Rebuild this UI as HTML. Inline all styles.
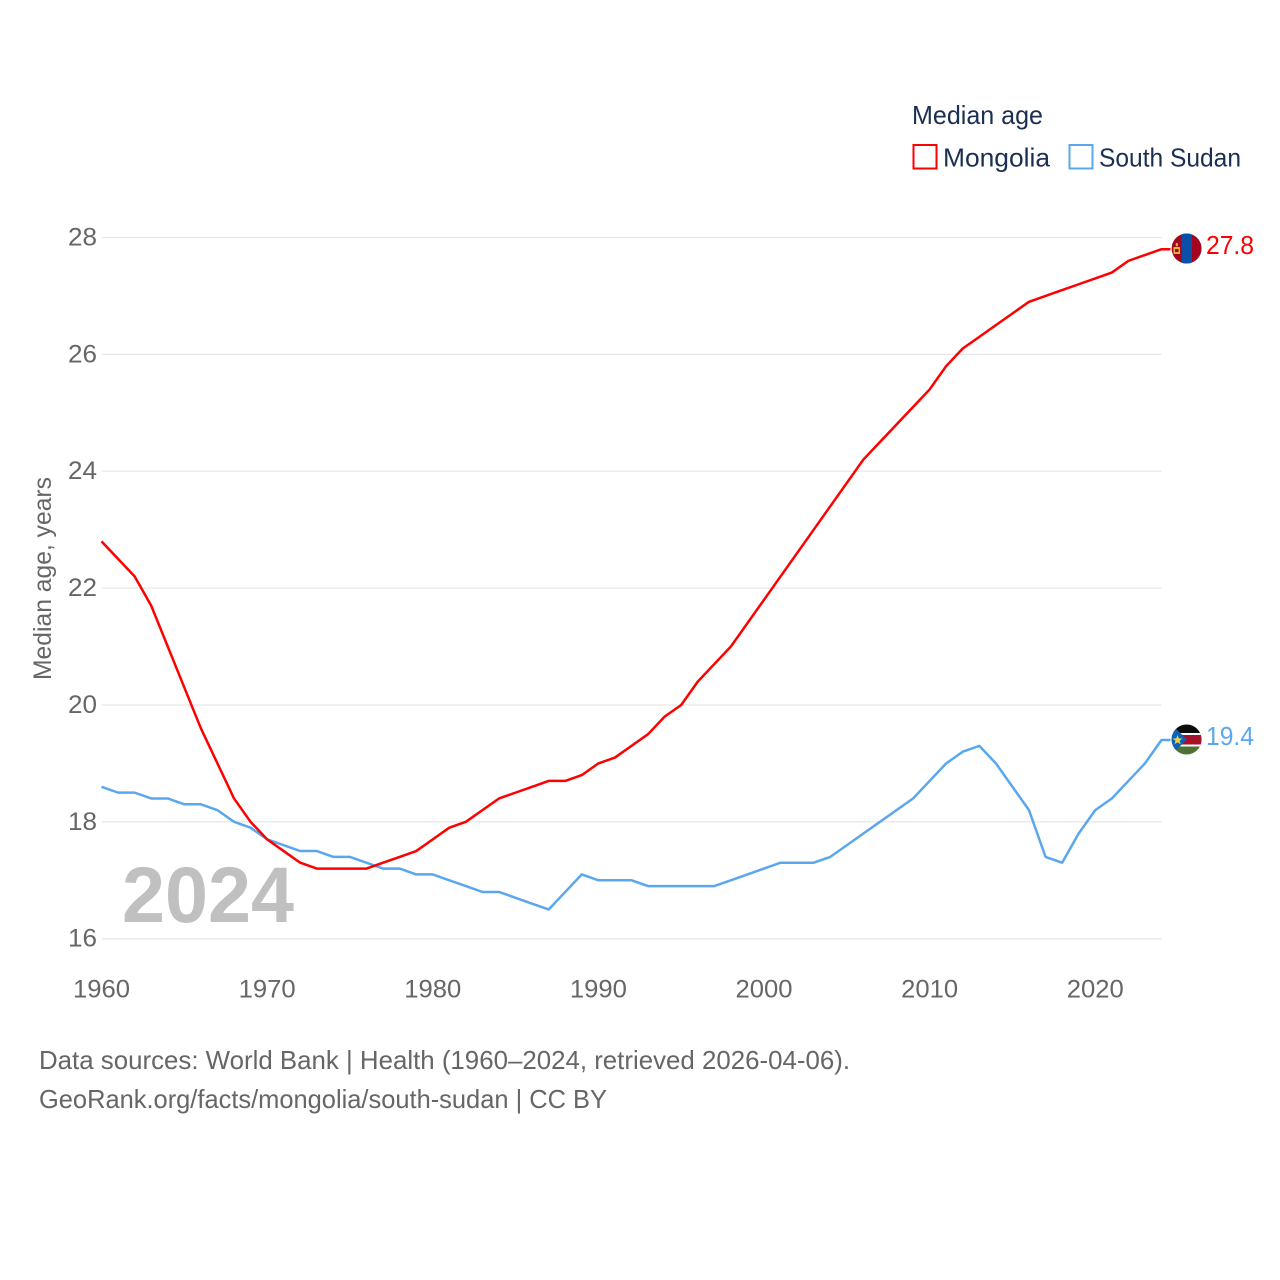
<!DOCTYPE html>
<html lang="en">
<head>
<meta charset="utf-8">
<title>Median age: Mongolia and South Sudan</title>
<style>
html,body{margin:0;padding:0;background:#fff;width:1280px;height:1280px;overflow:hidden}
svg{display:block}
text{font-family:"Liberation Sans",sans-serif}
</style>
</head>
<body>
<svg id="chart" width="1280" height="1280" viewBox="0 0 1280 1280" xmlns="http://www.w3.org/2000/svg">
  <defs>
    <clipPath id="flag-clip-mn"><circle cx="1186.6" cy="248.5" r="15"/></clipPath>
    <clipPath id="flag-clip-ss"><circle cx="1186.6" cy="739.5" r="15"/></clipPath>
  </defs>
  <g id="grid"></g>
  <g id="yticks"></g>
  <g id="xticks"></g>
  <text transform="translate(51,680) rotate(-90)" font-size="25" fill="#666" textLength="203" lengthAdjust="spacingAndGlyphs">Median age, years</text>
  <text x="122" y="922" font-size="79" font-weight="700" fill="#c0c0c0" textLength="172" lengthAdjust="spacingAndGlyphs">2024</text>
  <g id="series"></g>

  <g>
    <text x="912" y="124" font-size="26" fill="#1b2f52" textLength="131" lengthAdjust="spacingAndGlyphs">Median age</text>
    <rect x="913.5" y="145" width="23" height="23.5" fill="#fff" stroke="#ff0000" stroke-width="2"/>
    <text x="943" y="166.5" font-size="26" fill="#1b2f52" textLength="107" lengthAdjust="spacingAndGlyphs">Mongolia</text>
    <rect x="1069.5" y="145" width="23" height="23.5" fill="#fff" stroke="#5ba7ee" stroke-width="2"/>
    <text x="1099" y="166.5" font-size="26" fill="#1b2f52" textLength="142" lengthAdjust="spacingAndGlyphs">South Sudan</text>
  </g>

  <g clip-path="url(#flag-clip-mn)">
    <rect x="1171" y="233" width="31" height="31" fill="#a3071f"/>
    <rect x="1181.6" y="233" width="10.4" height="31" fill="#0b4fa8"/>
    <rect x="1173.5" y="247" width="6.5" height="7" fill="#e3b23c"/>
    <rect x="1175" y="249" width="3.5" height="3" fill="#a3071f"/>
    <rect x="1175.8" y="243" width="2" height="3.2" fill="#e3b23c"/>
  </g>
  <text x="1206" y="254" font-size="26" fill="#ff0000" textLength="48" lengthAdjust="spacingAndGlyphs">27.8</text>

  <g clip-path="url(#flag-clip-ss)">
    <rect x="1171" y="724" width="31" height="10.5" fill="#0c0c0c"/>
    <rect x="1171" y="734.5" width="31" height="10.5" fill="#a5122a"/>
    <rect x="1171" y="745" width="31" height="10" fill="#4d7232"/>
    <rect x="1171" y="733" width="31" height="2" fill="#fff"/>
    <rect x="1171" y="744.5" width="31" height="2" fill="#fff"/>
    <polygon points="1171,724 1187,739.5 1171,755" fill="#0b62b8"/>
    <polygon points="1177.5,735 1178.8,738.4 1182.4,738.5 1179.6,740.7 1180.6,744.2 1177.5,742.2 1174.5,744.2 1175.5,740.7 1172.7,738.5 1176.3,738.4" fill="#f6d23e"/>
  </g>
  <text x="1206" y="745" font-size="26" fill="#5ba7ee" textLength="48" lengthAdjust="spacingAndGlyphs">19.4</text>

  <text x="39" y="1069" font-size="26" fill="#666" textLength="811" lengthAdjust="spacingAndGlyphs">Data sources: World Bank | Health (1960–2024, retrieved 2026-04-06).</text>
  <text x="39" y="1108" font-size="26" fill="#666" textLength="568" lengthAdjust="spacingAndGlyphs">GeoRank.org/facts/mongolia/south-sudan | CC BY</text>
</svg>
<script>
const years = [];
for (let y = 1960; y <= 2024; y++) years.push(y);
const mongolia = [22.8,22.5,22.2,21.7,21.0,20.3,19.6,19.0,18.4,18.0,17.7,17.5,17.3,17.2,17.2,17.2,17.2,17.3,17.4,17.5,17.7,17.9,18.0,18.2,18.4,18.5,18.6,18.7,18.7,18.8,19.0,19.1,19.3,19.5,19.8,20.0,20.4,20.7,21.0,21.4,21.8,22.2,22.6,23.0,23.4,23.8,24.2,24.5,24.8,25.1,25.4,25.8,26.1,26.3,26.5,26.7,26.9,27.0,27.1,27.2,27.3,27.4,27.6,27.7,27.8];
const southSudan = [18.6,18.5,18.5,18.4,18.4,18.3,18.3,18.2,18.0,17.9,17.7,17.6,17.5,17.5,17.4,17.4,17.3,17.2,17.2,17.1,17.1,17.0,16.9,16.8,16.8,16.7,16.6,16.5,16.8,17.1,17.0,17.0,17.0,16.9,16.9,16.9,16.9,16.9,17.0,17.1,17.2,17.3,17.3,17.3,17.4,17.6,17.8,18.0,18.2,18.4,18.7,19.0,19.2,19.3,19.0,18.6,18.2,17.4,17.3,17.8,18.2,18.4,18.7,19.0,19.4];
const yTickValues = [16,18,20,22,24,26,28];
const xTickValues = [1960,1970,1980,1990,2000,2010,2020];

const NS = 'http://www.w3.org/2000/svg';
const xAxis = v => 101.5 + (v - 1960) * (1161.5 - 101.5) / 64;
const yAxis = v => 938.7 - (v - 16) * (938.7 - 237.5) / 12;

function make(tag, attrs, parent) {
  const el = document.createElementNS(NS, tag);
  for (const k in attrs) el.setAttribute(k, attrs[k]);
  parent.appendChild(el);
  return el;
}

const grid = document.getElementById('grid');
const yticks = document.getElementById('yticks');
const xticks = document.getElementById('xticks');
const seriesGroup = document.getElementById('series');

yTickValues.forEach(v => {
  const line = make('line', {x1: 102, x2: 1161.5, y1: yAxis(v), y2: yAxis(v), stroke: '#e8e8e8', 'stroke-width': 1.3}, grid);
  
  
  const t = make('text', {x: 68, y: yAxis(v) + 8, 'font-size': 25, fill: '#666', textLength: 29, lengthAdjust: 'spacingAndGlyphs'}, yticks);
  
  
  t.textContent = v;
});

xTickValues.forEach(v => {
  const t = make('text', {x: xAxis(v), y: 997.5, 'font-size': 25, fill: '#666', 'text-anchor': 'middle', textLength: 57, lengthAdjust: 'spacingAndGlyphs'}, xticks);
  
  
  t.textContent = v;
});

function drawSeries(values, color, name) {
  const pts = values.map((v, i) => xAxis(years[i]).toFixed(2) + ',' + yAxis(v).toFixed(2));
  pts.push((xAxis(years[years.length - 1]) + 9).toFixed(2) + ',' + yAxis(values[values.length - 1]).toFixed(2));
  const line = make('polyline', {points: pts.join(' '), fill: 'none', stroke: color, 'stroke-width': 2.5, 'stroke-linejoin': 'round'}, seriesGroup);
  
  
}
drawSeries(southSudan, '#5ba7ee', 'line-south-sudan');
drawSeries(mongolia, '#ff0000', 'line-mongolia');
</script>
</body>
</html>
